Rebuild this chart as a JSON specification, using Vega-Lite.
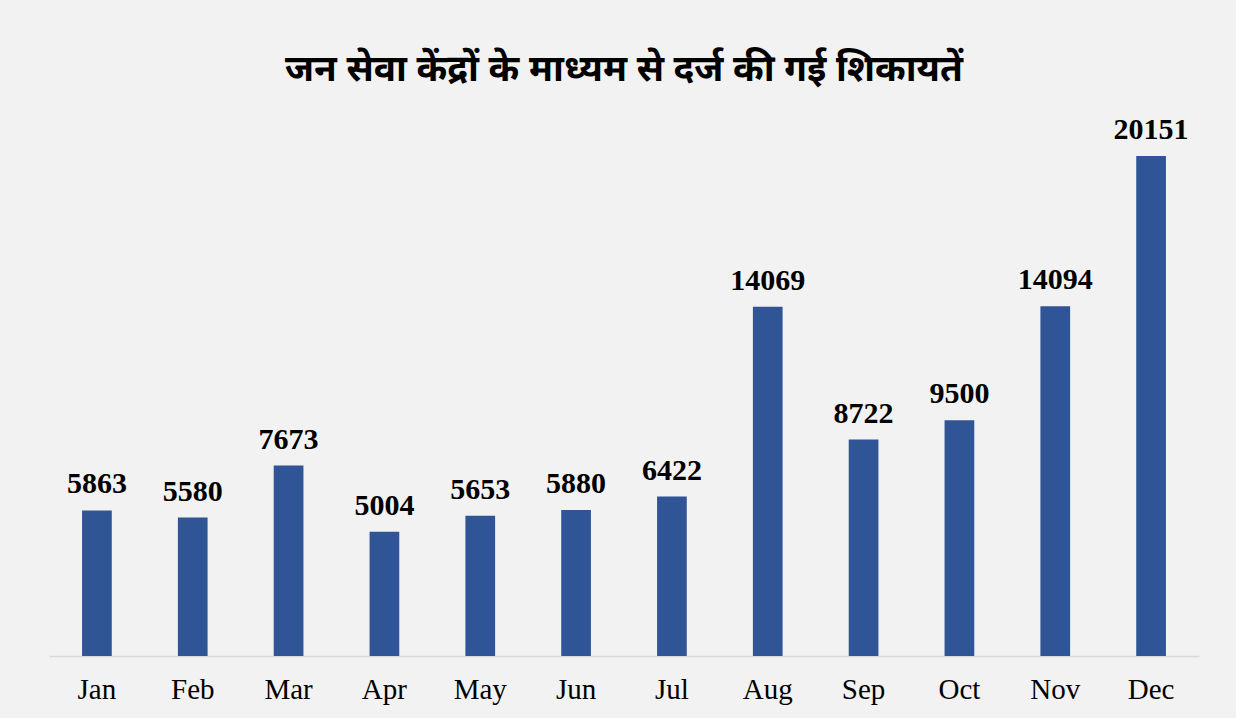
{
  "$schema": "https://vega.github.io/schema/vega-lite/v6.json",
  "width": 1150,
  "height": 546,
  "autosize": {"type": "none"},
  "padding": {"left": 49, "top": 110, "right": 37, "bottom": 62},
  "background": "#f2f2f2",
  "title": {
    "text": "जन सेवा केंद्रों के माध्यम से दर्ज की गई शिकायतें",
    "font": "Noto Sans",
    "fontSize": 37,
    "fontWeight": "bold",
    "color": "#000000",
    "anchor": "middle",
    "baseline": "alphabetic",
    "offset": -8
  },
  "data": {
    "values": [
      {"month": "Jan", "count": 5863},
      {"month": "Feb", "count": 5580},
      {"month": "Mar", "count": 7673},
      {"month": "Apr", "count": 5004},
      {"month": "May", "count": 5653},
      {"month": "Jun", "count": 5880},
      {"month": "Jul", "count": 6422},
      {"month": "Aug", "count": 14069},
      {"month": "Sep", "count": 8722},
      {"month": "Oct", "count": 9500},
      {"month": "Nov", "count": 14094},
      {"month": "Dec", "count": 20151}
    ]
  },
  "encoding": {
    "x": {
      "field": "month",
      "type": "nominal",
      "sort": null,
      "scale": {"paddingInner": 0, "paddingOuter": 0},
      "axis": {
        "title": null,
        "labelAngle": 0,
        "labelFont": "Liberation Serif",
        "labelFontSize": 29,
        "labelColor": "#000000",
        "labelPadding": 19,
        "ticks": false,
        "domainColor": "#d9d9d9",
        "domainWidth": 1.5,
        "grid": false
      }
    },
    "y": {
      "field": "count",
      "type": "quantitative",
      "scale": {"domain": [0, 22000], "nice": false},
      "axis": null
    }
  },
  "layer": [
    {
      "mark": {"type": "bar", "color": "#2F5597", "width": {"band": 0.31}}
    },
    {
      "mark": {
        "type": "text",
        "baseline": "bottom",
        "dy": -11,
        "font": "Liberation Serif",
        "fontSize": 30,
        "fontWeight": "bold",
        "color": "#000000"
      },
      "encoding": {"text": {"field": "count", "type": "quantitative", "format": "d"}}
    }
  ],
  "config": {"view": {"stroke": null}}
}
